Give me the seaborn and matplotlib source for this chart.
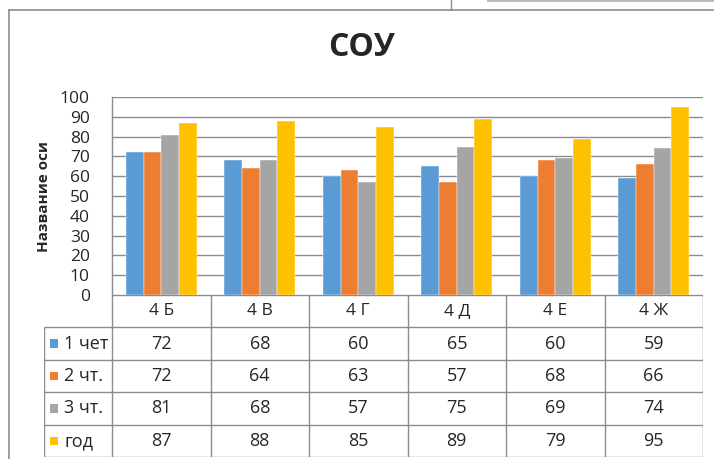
import matplotlib
matplotlib.use("Agg")
import matplotlib.pyplot as plt
import seaborn as sns
import pandas as pd
from matplotlib.lines import Line2D
from matplotlib.patches import Rectangle

categories = ["4 Б", "4 В", "4 Г", "4 Д", "4 Е", "4 Ж"]
series_names = ["1 чет", "2 чт.", "3 чт.", "год"]
q1 = [72, 68, 60, 65, 60, 59]
q2 = [72, 64, 63, 57, 68, 66]
q3 = [81, 68, 57, 75, 69, 74]
year = [87, 88, 85, 89, 79, 95]
colors = ["#5B9BD5", "#ED7D31", "#A5A5A5", "#FFC000"]
title = "СОУ"
ylabel = "Название оси"
yticks = [0, 10, 20, 30, 40, 50, 60, 70, 80, 90, 100]

all_values = [q1, q2, q3, year]
rows = []
for name, vals in zip(series_names, all_values):
    for c, v in zip(categories, vals):
        rows.append({"cat": c, "series": name, "value": v})
df = pd.DataFrame(rows)

sns.set_style("white")
plt.rcParams["font.family"] = ["Open Sans", "DejaVu Sans"]

W, H = 714, 459
fig = plt.figure(figsize=(W / 100, H / 100), dpi=100)

def fx(px):
    return px / W

def fy(py):
    return 1 - py / H

GRID = "#8C8C8C"
TXT = "#262626"

# plot area
pl, pr, pt, pb = 112, 703, 97, 295
ax = fig.add_axes([fx(pl), fy(pb), fx(pr - pl), (pb - pt) / H])
sns.barplot(data=df, x="cat", y="value", hue="series", palette=colors,
            order=categories, hue_order=series_names, width=0.72,
            ax=ax, legend=False, saturation=1, edgecolor="white", linewidth=0.3)
ax.set_ylim(0, 100)
ax.set_xlim(-0.5, 5.5)
ax.set_yticks(yticks)
ax.set_yticklabels([str(t) for t in yticks], fontsize=12.5, color=TXT,
                   family=["Open Sans", "DejaVu Sans"])
ax.tick_params(axis="y", length=0, pad=16)
ax.set_xticks([])
ax.set_xlabel("")
ax.set_ylabel(ylabel, fontsize=11, fontweight="bold", labelpad=6)
ax.yaxis.grid(True, color=GRID, linewidth=1)
ax.set_axisbelow(True)
for s in ["top", "right", "bottom"]:
    ax.spines[s].set_visible(False)
ax.spines["left"].set_color(GRID)
ax.spines["left"].set_linewidth(1)

# title
fig.text(fx(362), fy(47), title, fontsize=23, fontweight="bold",
         ha="center", va="center", family=["Open Sans", "DejaVu Sans"])

# data table
tl, tr, tt, tb = 44, 703, 295, 457
unit = (pr - pl) / 6.0
left_units = (pl - tl) / unit
tax = fig.add_axes([fx(tl), fy(tb), fx(tr - tl), (tb - tt) / H])
tax.set_xlim(-0.5 - left_units, 5.5)
tax.set_ylim(5, 0)
tax.axis("off")
lw = 1
tax.plot([-0.5, 5.5], [0, 0], color=GRID, lw=lw, solid_capstyle="butt")
for r in range(1, 6):
    tax.plot([-0.5 - left_units, 5.5], [r, r], color=GRID, lw=lw, solid_capstyle="butt")
for c in range(7):
    tax.plot([c - 0.5, c - 0.5], [0, 5], color=GRID, lw=lw, solid_capstyle="butt")
tax.plot([-0.5 - left_units] * 2, [1, 5], color=GRID, lw=lw, solid_capstyle="butt")

for i, c in enumerate(categories):
    tax.text(i, 0.5, c, ha="center", va="center", fontsize=12.5, color=TXT)
for r, (name, vals, col) in enumerate(zip(series_names, all_values, colors), start=1):
    x0 = -0.5 - left_units
    tax.add_patch(Rectangle((x0 + 6 / unit, r + 0.5 - 0.13), 8 / unit, 0.26,
                            facecolor=col, edgecolor="none"))
    tax.text(x0 + 20 / unit, r + 0.5, name, ha="left", va="center",
             fontsize=13, color=TXT)
    for i, v in enumerate(vals):
        tax.text(i, r + 0.5, str(v), ha="center", va="center",
                 fontsize=13, color=TXT)

# outer chart frame (screenshot context)
FR = "#8C8C8C"
fig.add_artist(Line2D([fx(9), fx(9)], [fy(10), 0], color=FR, lw=1.2))
fig.add_artist(Line2D([fx(9), 1], [fy(10), fy(10)], color=FR, lw=1.2))
fig.add_artist(Line2D([fx(451), fx(451)], [1, fy(10)], color=FR, lw=1))
fig.add_artist(Rectangle((fx(487), fy(1.5)), 1 - fx(487), 1.5 / H,
                         facecolor="#BDBDBD", edgecolor="none",
                         transform=fig.transFigure))

fig.savefig("out.png", dpi=100)
